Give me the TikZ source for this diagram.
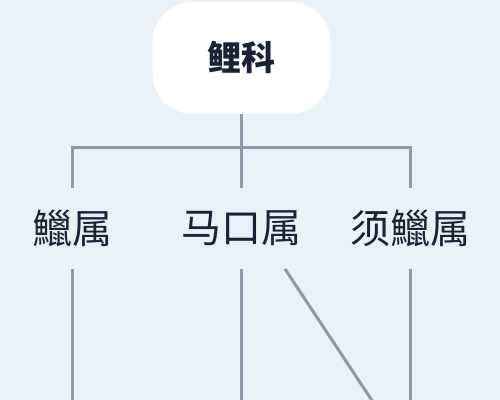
\documentclass[tikz,border=0pt]{standalone}
\usepackage{fontspec}
\newfontfamily\cjk{Noto Sans CJK SC}
\usetikzlibrary{positioning}
\definecolor{bgblue}{HTML}{EAF2F7}
\definecolor{linegray}{HTML}{8B9BA8}
\definecolor{inkdark}{HTML}{1B2236}

\begin{document}
\begin{tikzpicture}[x=0.5pt,y=-0.5pt]

  \tikzstyle{family}=[rounded corners=20pt,fill=white,minimum width=89pt,
                      minimum height=56pt,inner sep=0pt,text=inkdark,
                      font=\cjk\bfseries\fontsize{17}{17}\selectfont]
  \tikzstyle{genus}=[minimum height=40.5pt,inner sep=0pt,text=inkdark,
                     font=\cjk\fontsize{20}{20}\selectfont]
  \tikzstyle{link}=[draw=linegray,line width=1.5pt]

  % background and frame
  \fill [bgblue] (0,0) rectangle (500,400);
  \useasboundingbox (0,0) rectangle (500,400);

  \node [family] (liko) at (241.5,58) {鲤科};

  \node [genus] (lie)   at (72.5,228.5)  {鱲属};
  \node [genus] (makou) at (242,228.5)   {马口属};
  \node [genus] (xulie) at (410.5,228.5) {须鱲属};

  \coordinate (jl) at (72.5,148);
  \coordinate (jm) at (242,148);
  \coordinate (jr) at (410.5,148);

  \coordinate (el) at (72.5,402);
  \coordinate (em) at (242,402);
  \coordinate (ed) at (373,402);
  \coordinate (er) at (410.5,402);
  \coordinate (sd) at (285,269);

  \draw [link] (liko.south -| jm) -- (jm);
  \draw [link] (lie.north) -- (jl) -- (jr) -- (xulie.north);
  \draw [link] (jm) -- (makou.north);

  \draw [link] (lie.south) -- (el);
  \draw [link] (makou.south) -- (em);
  \draw [link] (xulie.south) -- (er);
  \draw [link] (sd) -- (ed);
\end{tikzpicture}
\end{document}
